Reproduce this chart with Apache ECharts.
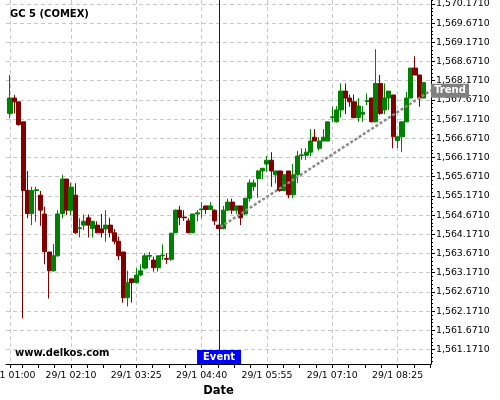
<!DOCTYPE html>
<html><head><meta charset="utf-8">
<script src="https://cdn.jsdelivr.net/npm/echarts@6/dist/echarts.min.js"></script>
<style>html,body{margin:0;padding:0;background:#fff}#c{width:500px;height:400px}</style>
</head><body><div id="c"></div>
<script>
const chartTitle = 'GC 5 (COMEX)';
const watermark = 'www.delkos.com';
const opens = [1567.32,1567.72,1567.62,1567.10,1565.31,1564.71,1565.31,1565.19,1564.70,1563.71,
1563.22,1563.61,1564.71,1565.61,1564.80,1565.19,1564.32,1564.41,1564.60,1564.32,
1564.41,1564.31,1564.31,1564.41,1564.21,1563.99,1563.71,1562.52,1563.01,1562.91,
1563.11,1563.29,1563.60,1563.50,1563.30,1563.61,1563.54,1563.52,1564.21,1564.80,
1564.62,1564.52,1564.21,1564.70,1564.81,1564.91,1564.82,1564.80,1564.41,1564.32,
1564.80,1565.01,1564.80,1564.91,1564.70,1565.11,1565.41,1565.62,1565.82,1566.00,
1566.10,1565.72,1565.82,1565.31,1565.82,1565.20,1565.72,1566.22,1566.23,1566.31,
1566.70,1566.41,1566.60,1566.60,1567.21,1567.10,1567.41,1567.90,1567.72,1567.62,
1567.21,1567.30,1567.63,1567.72,1567.10,1568.10,1567.41,1567.72,1567.80,1566.61,
1566.71,1567.10,1567.72,1568.50,1568.32,1567.72];
const closes = [1567.72,1567.62,1567.03,1565.31,1564.71,1565.31,1565.33,1564.80,1563.72,1563.22,
1563.61,1564.70,1565.61,1564.80,1565.40,1564.21,1564.34,1564.51,1564.41,1564.51,
1564.21,1564.21,1564.41,1564.21,1563.99,1563.61,1562.52,1562.91,1562.91,1563.11,
1563.22,1563.61,1563.62,1563.30,1563.61,1563.63,1563.52,1564.20,1564.80,1564.61,
1564.60,1564.21,1564.70,1564.73,1564.83,1564.82,1564.91,1564.52,1564.32,1564.80,
1565.01,1564.80,1564.91,1564.60,1565.11,1565.51,1565.51,1565.82,1565.89,1566.10,
1565.82,1565.82,1565.31,1565.72,1565.20,1565.72,1566.21,1566.24,1566.31,1566.60,
1566.60,1566.60,1566.70,1567.10,1567.23,1567.41,1567.90,1567.72,1567.62,1567.21,
1567.51,1567.35,1567.65,1567.10,1568.10,1567.32,1567.72,1567.90,1566.71,1566.71,
1567.10,1567.72,1568.50,1568.32,1567.72,1568.12];
const lows = [1567.19,1567.32,1567.00,1561.98,1564.59,1564.41,1564.50,1564.39,1563.39,1562.50,
1563.20,1563.59,1564.59,1564.67,1564.67,1564.18,1564.09,1564.28,1564.09,1564.09,
1564.20,1564.09,1563.98,1564.09,1563.91,1563.50,1562.39,1562.29,1562.39,1562.89,
1563.08,1563.26,1563.50,1563.20,1563.20,1563.50,1563.40,1563.48,1564.20,1564.41,
1564.52,1564.20,1564.20,1564.51,1564.59,1564.70,1564.80,1564.41,1564.32,1564.30,
1564.78,1564.70,1564.70,1564.41,1564.67,1565.02,1565.30,1565.12,1565.60,1565.80,
1565.41,1565.50,1565.28,1565.29,1565.11,1565.11,1565.50,1566.11,1566.11,1566.21,
1566.60,1566.35,1566.60,1566.60,1567.10,1567.08,1567.21,1567.30,1567.49,1567.19,
1567.10,1567.10,1567.54,1567.09,1567.09,1567.28,1567.30,1567.41,1566.41,1566.41,
1566.31,1567.09,1567.72,1568.32,1567.49,1567.72];
const highs = [1568.32,1567.80,1567.62,1567.10,1565.82,1565.41,1565.41,1565.30,1564.89,1563.71,
1563.92,1564.80,1565.72,1565.61,1565.51,1565.50,1564.59,1564.69,1564.69,1564.51,
1564.51,1564.70,1564.80,1564.60,1564.31,1564.11,1563.71,1563.22,1563.01,1563.29,
1563.39,1563.68,1563.71,1563.59,1563.61,1563.91,1563.68,1564.21,1564.82,1564.91,
1564.80,1564.59,1564.70,1564.80,1565.01,1564.91,1565.01,1564.82,1564.41,1564.91,
1565.10,1565.10,1564.91,1564.91,1565.11,1565.60,1565.60,1565.85,1565.89,1566.21,
1566.31,1565.82,1565.82,1565.72,1565.82,1566.00,1566.34,1566.41,1566.41,1566.91,
1566.91,1566.70,1566.91,1567.10,1567.49,1567.51,1568.10,1568.10,1567.81,1567.81,
1567.72,1567.51,1567.84,1567.72,1568.99,1568.32,1568.10,1567.90,1567.80,1566.71,
1567.10,1567.88,1568.50,1568.81,1568.32,1568.12];
const xLabelIdx = [0,14,29,44,59,74,89];
const xLabelText = ['29/1 01:00','29/1 02:10','29/1 03:25','29/1 04:40','29/1 05:55','29/1 07:10','29/1 08:25'];
const xMinorTicks = [2.75,6.5,10.25,14,17.75,21.5,25.25,29,32.75,36.5,40.25,44,47.75,51.5,55.25,59,62.75,66.5,70.25,74,77.75,81.5,85.25,89,92.75,96.5];
const yLabels = [1561.171,1561.671,1562.171,1562.671,1563.171,1563.671,1564.171,1564.671,1565.171,1565.671,1566.171,1566.671,1567.171,1567.671,1568.171,1568.671,1569.171,1569.671,1570.171];
const eventIdx = 48;
const trendStart = [48.3, 1564.36];
const trendEnd = [96.67, 1567.92];

const xMin = -0.92, xMax = 96.67, yMin = 1560.793, yMax = 1570.273;
const yMinor = [];
[1560.671].concat(yLabels).forEach(v => { for (let k = 1; k <= 4; k++) { const t = +(v + k * 0.1).toFixed(3); if (t > yMin && t < yMax && yLabels.indexOf(t) < 0) yMinor.push(t); } });

const data = opens.map((o, i) => [i, o, closes[i], lows[i], highs[i]]);
const fmtY = v => v.toLocaleString('en-US', {minimumFractionDigits: 4, maximumFractionDigits: 4});
const FF = 'DejaVu Sans';
const grid = {color: '#c8c8c8', type: [4, 3], width: 1};

const chart = echarts.init(document.getElementById('c'), null, {renderer: 'canvas'});
chart.setOption({
  animation: false,
  backgroundColor: '#fff',
  title: {text: chartTitle, left: 10, top: 9, padding: 0,
    textStyle: {fontFamily: FF, fontWeight: 'bold', fontSize: 10, color: '#000'}},
  graphic: [{type: 'text', left: 15, top: 348, z: 10,
    style: {text: watermark, fontFamily: FF, fontWeight: 'bold', fontSize: 10, fill: '#000'}}],
  grid: {left: 6, right: 69, top: 0, bottom: 36, containLabel: false, outerBoundsMode: 'none'},
  xAxis: [{
    type: 'value', min: xMin, max: xMax, position: 'bottom',
    axisLine: {show: true, onZero: false, lineStyle: {color: '#000', width: 1}},
    axisTick: {show: true, customValues: xLabelIdx, length: 4, lineStyle: {color: '#000'}},
    axisLabel: {customValues: xLabelIdx, formatter: v => xLabelText[xLabelIdx.indexOf(Math.round(v))],
      fontFamily: FF, fontSize: 9.4, color: '#000', margin: 7, hideOverlap: false},
    splitLine: {show: true, lineStyle: grid},
    name: 'Date', nameLocation: 'middle', nameGap: 19,
    nameTextStyle: {fontFamily: FF, fontWeight: 'bold', fontSize: 11.5, color: '#000'}
  }, {
    type: 'value', min: xMin, max: xMax, position: 'bottom',
    axisLine: {show: false, onZero: false},
    axisTick: {show: true, customValues: xMinorTicks, length: 4, lineStyle: {color: '#000'}},
    axisLabel: {show: false}, splitLine: {show: false}
  }],
  yAxis: [{
    type: 'value', min: yMin, max: yMax, position: 'right', scale: true,
    axisLine: {show: true, onZero: false, lineStyle: {color: '#000', width: 1}},
    axisTick: {show: true, customValues: yLabels, length: 4, lineStyle: {color: '#000'}},
    axisLabel: {customValues: yLabels, formatter: fmtY, fontFamily: FF, fontSize: 9.4, color: '#000', margin: 5},
    splitLine: {show: true, lineStyle: grid}
  }, {
    type: 'value', min: yMin, max: yMax, position: 'right', scale: true,
    axisLine: {show: false, onZero: false},
    axisTick: {show: true, customValues: yMinor, length: 2, lineStyle: {color: '#000'}},
    axisLabel: {show: false}, splitLine: {show: false}
  }],
  series: [{
    type: 'candlestick', xAxisIndex: 0, yAxisIndex: 0, data: data,
    encode: {x: 0, y: [1, 2, 3, 4]}, barWidth: 4.6,
    itemStyle: {color: '#008000', color0: '#800000', borderColor: '#008000', borderColor0: '#800000', borderWidth: 1}
  }, {
    type: 'line', xAxisIndex: 0, yAxisIndex: 0, data: [trendStart, trendEnd],
    symbol: 'none', z: 3,
    lineStyle: {color: '#8a8a8a', width: 2.5, type: [3, 2]},
    markLine: {symbol: 'none', silent: true, label: {show: false},
      lineStyle: {color: '#0000ff', width: 1, type: 'solid'},
      data: [{xAxis: eventIdx}]},
    markPoint: {silent: true, data: [
      {coord: [eventIdx, yMin], symbol: 'rect', symbolSize: [44, 14], symbolOffset: [0, -7],
        itemStyle: {color: '#0000ff'},
        label: {show: true, position: 'inside', formatter: 'Event', color: '#fff', fontFamily: FF, fontWeight: 'bold', fontSize: 10}},
      {coord: trendEnd, symbol: 'rect', symbolSize: [38, 14], symbolOffset: [19, 0.5],
        itemStyle: {color: '#808080'},
        label: {show: true, position: 'inside', formatter: 'Trend', color: '#fff', fontFamily: FF, fontWeight: 'bold', fontSize: 10}}
    ]}
  }]
});
</script></body></html>
